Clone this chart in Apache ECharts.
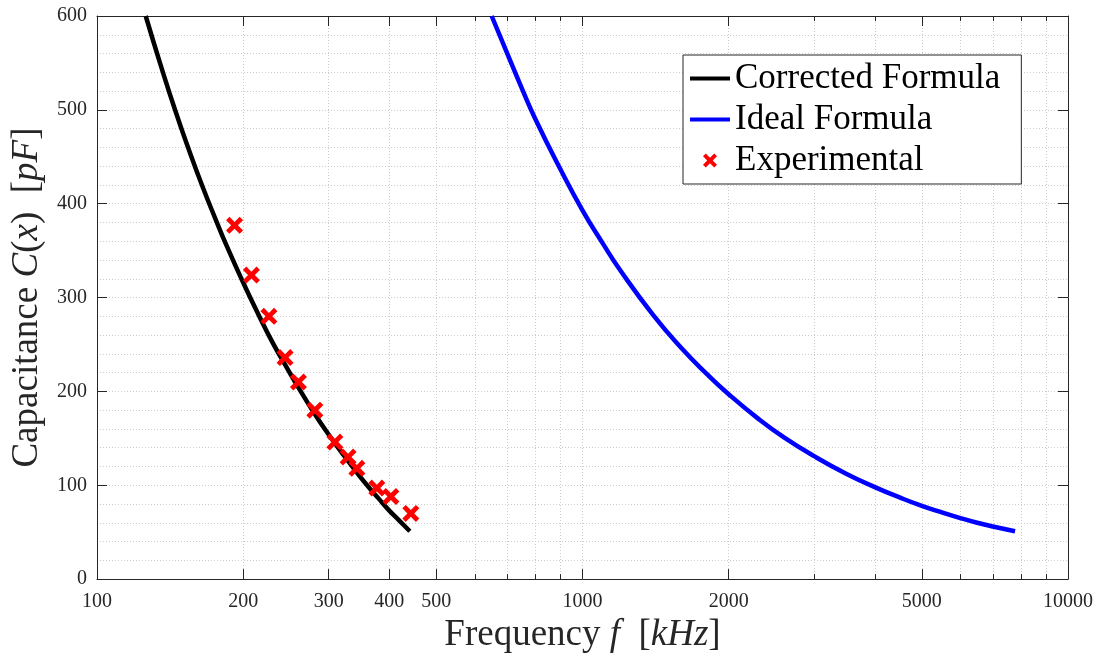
<!DOCTYPE html>
<html><head><meta charset="utf-8">
<script src="https://cdn.jsdelivr.net/npm/echarts@6/dist/echarts.min.js"></script>
<style>html,body{margin:0;padding:0;background:#fff}#c{width:1102px;height:659px}</style>
</head><body><div id="c"></div>
<script>
// Data (frequency in kHz, capacitance in pF)
const correctedFreq = [126, 135, 145, 155, 165, 175, 185, 200, 215, 230, 245, 260, 280, 300, 320, 340, 360, 380, 400, 420, 441];
const correctedCap  = [600, 549, 499, 456, 418, 385, 355, 316, 282, 252, 227, 204, 177, 154, 134, 116, 100, 86, 73, 62, 51];
const idealFreq = [650, 700, 750, 800, 900, 1000, 1100, 1200, 1400, 1600, 1800, 2000, 2300, 2600, 3000, 3500, 4000, 4500, 5000, 5500, 6000, 6500, 7000, 7780];
const idealCap  = [600, 560, 523, 490, 437, 393, 358, 328, 281, 246, 219, 197, 171, 151, 131, 112, 98, 87, 78, 71, 65, 60, 56, 51];
const expFreq = [192, 208, 226, 244, 260, 281, 309, 329, 343, 377, 403, 443];
const expCap  = [377, 324, 280, 236, 210, 180, 146, 130, 118, 97, 88, 70];
const xLabelTicks = [100, 200, 300, 400, 500, 1000, 2000, 5000, 10000];
const xMinorTicks = [600, 700, 800, 900, 3000, 4000, 6000, 7000, 8000, 9000];
const seriesNames = ['Corrected Formula', 'Ideal Formula', 'Experimental'];

const lg = v => Math.log10(v);
const pairs = (fs, cs) => fs.map((f, i) => [lg(f), cs[i]]);
const AX = '#262626';
const SERIF = '"Liberation Serif","DejaVu Serif",serif';
const gridLine = { show: true, lineStyle: { color: '#cccccc', type: [1, 2], width: 1 } };
const crossPath = 'path://M2,0 L5,3 L8,0 L10,2 L7,5 L10,8 L8,10 L5,7 L2,10 L0,8 L3,5 L0,2 Z';

function xAxisDef(pos, ticks, len, opts) {
  return Object.assign({
    type: 'value', min: 2, max: 4, position: pos, gridIndex: 0,
    axisLine: { show: false, onZero: false },
    axisTick: { show: true, inside: true, length: len, customValues: ticks.map(lg), lineStyle: { color: AX } },
    axisLabel: { show: false },
    splitLine: { show: false }
  }, opts || {});
}

const chart = echarts.init(document.getElementById('c'));
chart.setOption({
  backgroundColor: '#ffffff',
  animation: false,
  grid: { left: 97, right: 34, top: 16, bottom: 72, containLabel: false },
  legend: {
    data: [
      { name: seriesNames[0], itemStyle: { opacity: 0 }, lineStyle: { width: 4, color: '#000000' } },
      { name: seriesNames[1], itemStyle: { opacity: 0 }, lineStyle: { width: 4, color: '#0000ff' } },
      { name: seriesNames[2] }
    ],
    orient: 'vertical',
    left: 683, top: 55,
    padding: [6, 21, 6, 5],
    itemWidth: 40, itemHeight: 14, itemGap: 6, itemTextGap: 5,
    backgroundColor: '#ffffff', borderColor: AX, borderWidth: 1, borderRadius: 0,
    textStyle: { fontFamily: SERIF, fontSize: 35, color: '#000', lineHeight: 32 }
  },
  xAxis: [
    xAxisDef('bottom', xLabelTicks, 10, {
      axisLine: { show: true, onZero: false, lineStyle: { color: AX, width: 1 } },
      axisLabel: {
        show: true, customValues: xLabelTicks.map(lg), margin: 13,
        formatter: v => String(Math.round(Math.pow(10, v))),
        fontFamily: SERIF, fontSize: 20, color: AX
      },
      splitLine: gridLine,
      name: 'Frequency {i|f}  [{i|kHz}]', nameLocation: 'middle', nameGap: 34,
      nameTextStyle: { fontFamily: SERIF, fontSize: 37, color: AX,
        rich: { i: { fontFamily: SERIF, fontSize: 37, fontStyle: 'italic', color: AX } } }
    }),
    xAxisDef('bottom', xMinorTicks, 5, { splitLine: gridLine }),
    xAxisDef('top', xLabelTicks, 10, { axisLine: { show: true, onZero: false, lineStyle: { color: AX, width: 1 } } }),
    xAxisDef('top', xMinorTicks, 5)
  ],
  yAxis: [
    {
      type: 'value', min: 0, max: 600, interval: 100, position: 'left',
      axisLine: { show: true, onZero: false, lineStyle: { color: AX, width: 1 } },
      axisTick: { show: true, inside: true, length: 10, lineStyle: { color: AX } },
      minorTick: { show: false, splitNumber: 5 },
      minorSplitLine: { show: true, lineStyle: { color: '#cccccc', type: [1, 2], width: 1 } },
      splitLine: gridLine,
      axisLabel: { margin: 10, fontFamily: SERIF, fontSize: 20, color: AX },
      name: 'Capacitance {i|C}({i|x})  [{i|pF}]', nameLocation: 'middle', nameGap: 48, nameRotate: 90,
      nameTextStyle: { fontFamily: SERIF, fontSize: 37, color: AX,
        rich: { i: { fontFamily: SERIF, fontSize: 37, fontStyle: 'italic', color: AX } } }
    },
    {
      type: 'value', min: 0, max: 600, interval: 100, position: 'right',
      axisLine: { show: true, onZero: false, lineStyle: { color: AX, width: 1 } },
      axisTick: { show: true, inside: true, length: 10, lineStyle: { color: AX } },
      axisLabel: { show: false }, splitLine: { show: false }
    }
  ],
  series: [
    {
      name: seriesNames[0], type: 'line', xAxisIndex: 0, yAxisIndex: 0,
      data: pairs(correctedFreq, correctedCap), smooth: true, symbol: 'none',
      lineStyle: { color: '#000000', width: 4.5 }, itemStyle: { color: '#000000' }, z: 3
    },
    {
      name: seriesNames[1], type: 'line', xAxisIndex: 0, yAxisIndex: 0,
      data: pairs(idealFreq, idealCap), smooth: true, symbol: 'none',
      lineStyle: { color: '#0000ff', width: 4.5 }, itemStyle: { color: '#0000ff' }, z: 3
    },
    {
      name: seriesNames[2], type: 'scatter', xAxisIndex: 0, yAxisIndex: 0,
      data: pairs(expFreq, expCap), symbol: crossPath, symbolSize: 17, symbolKeepAspect: true,
      itemStyle: { color: '#ff0000', opacity: 1 }, z: 4
    }
  ]
});
</script>
</body></html>
